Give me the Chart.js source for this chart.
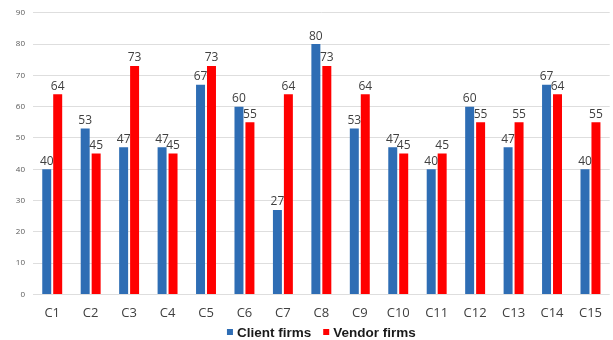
<!DOCTYPE html>
<html lang="en">
  <head>
    <meta charset="UTF-8" />
    <title>Client vs Vendor firms</title>
    <script src="https://cdn.jsdelivr.net/npm/chart.js"></script>
    <style>
      html, body { margin: 0; padding: 0; background: #fff; }
      #wrap { width: 613px; height: 340px; position: relative; }
    </style>
  </head>
  <body>
    <div id="wrap"><canvas id="chart"></canvas></div>
    <script>
      const categories = ["C1", "C2", "C3", "C4", "C5", "C6", "C7", "C8", "C9", "C10", "C11", "C12", "C13", "C14", "C15"];
      const clientFirms = [40, 53, 47, 47, 67, 60, 27, 80, 53, 47, 40, 60, 47, 67, 40];
      const vendorFirms = [64, 45, 73, 45, 73, 55, 64, 73, 64, 45, 45, 55, 55, 64, 55];
      const yTicks = [0, 10, 20, 30, 40, 50, 60, 70, 80, 90];

      // draws the value above each bar
      const valueLabels = {
        id: "valueLabels",
        afterDatasetsDraw(chart) {
          const ctx = chart.ctx;
          ctx.save();
          ctx.font = "12px 'Open Sans', sans-serif";
          ctx.fillStyle = "#404040";
          ctx.textAlign = "center";
          ctx.textBaseline = "bottom";
          chart.data.datasets.forEach((ds, i) => {
            chart.getDatasetMeta(i).data.forEach((bar, j) => {
              ctx.fillText(ds.data[j], bar.x, bar.y - 2);
            });
          });
          ctx.restore();
        }
      };

      // small legend under the axis, drawn by hand so spacing can be tight
      const bottomLegend = {
        id: "bottomLegend",
        afterDraw(chart) {
          const ctx = chart.ctx;
          const area = chart.chartArea;
          const box = 6, gap = 4, between = 12;
          ctx.save();
          ctx.font = "bold 13.5px 'Liberation Sans', Arial, sans-serif";
          ctx.textBaseline = "middle";
          const items = chart.data.datasets.map(ds => ({
            text: ds.label,
            color: ds.backgroundColor,
            w: box + gap + ctx.measureText(ds.label).width
          }));
          let total = items.reduce((s, it) => s + it.w, 0) + between * (items.length - 1);
          let x = (area.left + area.right) / 2 - total / 2;
          const y = 332;
          items.forEach(it => {
            ctx.fillStyle = it.color;
            ctx.fillRect(x, y - box / 2, box, box);
            ctx.fillStyle = "#1a1a1a";
            ctx.fillText(it.text, x + box + gap, y + 1);
            x += it.w + between;
          });
          ctx.restore();
        }
      };

      new Chart(document.getElementById("chart"), {
        type: "bar",
        data: {
          labels: categories,
          datasets: [
            {
              label: "Client firms",
              data: clientFirms,
              backgroundColor: "#2E6DB4",
              categoryPercentage: 0.57,
              barPercentage: 0.82
            },
            {
              label: "Vendor firms",
              data: vendorFirms,
              backgroundColor: "#FF0000",
              categoryPercentage: 0.57,
              barPercentage: 0.82
            }
          ]
        },
        options: {
          responsive: true,
          maintainAspectRatio: false,
          animation: false,
          layout: { padding: { top: -3, right: 0, bottom: 8, left: 0 } },
          plugins: {
            legend: { display: false },
            tooltip: { enabled: false }
          },
          scales: {
            x: {
              grid: { display: false, drawTicks: false },
              border: { display: false },
              ticks: {
                color: "#404040",
                font: { size: 13, family: "'Open Sans', sans-serif" },
                padding: 11
              }
            },
            y: {
              min: 0,
              max: 90,
              afterBuildTicks(axis) {
                axis.ticks = yTicks.map(v => ({ value: v }));
              },
              afterFit(axis) { axis.width = 33; },
              grid: { color: "#dedede", lineWidth: 1, drawTicks: false },
              border: { display: false },
              ticks: {
                color: "#595959",
                font: { size: 8, family: "'Open Sans', sans-serif" },
                padding: 8
              }
            }
          }
        },
        plugins: [valueLabels, bottomLegend]
      });
    </script>
  </body>
</html>
